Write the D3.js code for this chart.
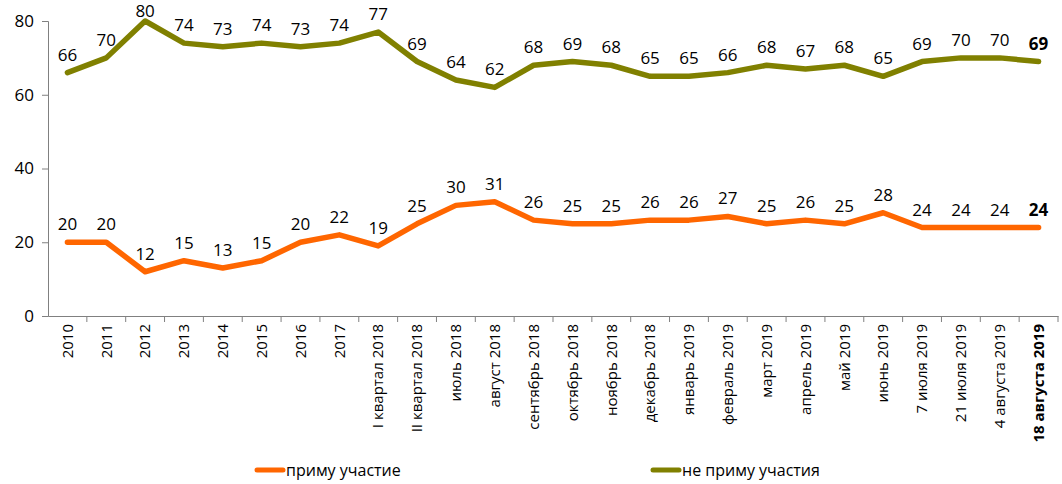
<!DOCTYPE html>
<html>
<head>
<meta charset="utf-8">
<script src="https://cdn.jsdelivr.net/npm/d3@7"></script>
<style>
  body { margin: 0; background: #fff; }
  svg { display: block; }
  .lbl { font-family: "Open Sans", sans-serif; font-size: 17px; fill: #000; }
  .ax text { font-family: "Open Sans", sans-serif; fill: #000; }
</style>
</head>
<body>
<div id="chart"></div>
<script>
var width = 1062,
    height = 484;

// data
var categories = ["2010","2011","2012","2013","2014","2015","2016","2017",
  "I квартал 2018","II квартал 2018","июль 2018","август 2018","сентябрь 2018",
  "октябрь 2018","ноябрь 2018","декабрь 2018","январь 2019","февраль 2019",
  "март 2019","апрель 2019","май 2019","июнь 2019","7 июля 2019","21 июля 2019",
  "4 августа 2019","18 августа 2019"];
var willTake = [20,20,12,15,13,15,20,22,19,25,30,31,26,25,25,26,26,27,25,26,25,28,24,24,24,24];
var wontTake = [66,70,80,74,73,74,73,74,77,69,64,62,68,69,68,65,65,66,68,67,68,65,69,70,70,69];
var yTicks = [0,20,40,60,80];
var seriesNames = ["приму участие", "не приму участия"];
var colors = ["#ff6600", "#808000"];

var margin = {top: 21, left: 48, right: 4, bottom: 168};

var x = d3.scaleBand()
    .domain(categories)
    .range([margin.left, width - margin.right])
    .padding(0);
var y = d3.scaleLinear()
    .domain([0, 80])
    .range([height - margin.bottom, margin.top]);

var svg = d3.select("#chart").append("svg")
    .attr("width", width)
    .attr("height", height);

var last = categories[categories.length - 1];

// y axis
var yAxis = svg.append("g")
    .attr("class", "ax")
    .attr("transform", "translate(" + margin.left + ",0)")
    .call(d3.axisLeft(y).tickValues(yTicks).tickSize(6).tickPadding(8));
yAxis.selectAll("text").style("font-size", "17px");
yAxis.selectAll("line, path").attr("stroke", "#808080");

// x axis
var xAxis = svg.append("g")
    .attr("class", "ax")
    .attr("transform", "translate(0," + y(0) + ")")
    .call(d3.axisBottom(x).tickSize(0).tickSizeOuter(0));
xAxis.select("path").attr("stroke", "#808080");
xAxis.selectAll("text")
    .style("font-size", "15px")
    .style("font-weight", function(d) { return d == last ? "bold" : "normal"; })
    .attr("transform", "rotate(-90)")
    .attr("x", -8)
    .attr("y", 0)
    .attr("dy", "0.35em")
    .attr("text-anchor", "end");

// tick marks between categories
svg.append("g")
    .selectAll("line")
    .data(categories)
    .enter().append("line")
    .attr("x1", function(d) { return x(d) + x.bandwidth(); })
    .attr("x2", function(d) { return x(d) + x.bandwidth(); })
    .attr("y1", y(0))
    .attr("y2", y(0) + 6)
    .attr("stroke", "#808080");

var line = d3.line()
    .x(function(d, i) { return x(categories[i]) + x.bandwidth() / 2; })
    .y(function(d) { return y(d); });

[willTake, wontTake].forEach(function(vals, k) {
  svg.append("path")
      .datum(vals)
      .attr("fill", "none")
      .attr("stroke", colors[k])
      .attr("stroke-width", 5.5)
      .attr("stroke-linejoin", "round")
      .attr("stroke-linecap", "round")
      .attr("d", line);

  svg.append("g")
      .selectAll("text")
      .data(vals)
      .enter().append("text")
      .attr("class", "lbl")
      .attr("x", function(d, i) { return x(categories[i]) + x.bandwidth() / 2; })
      .attr("y", function(d) { return Math.max(y(d) - 12, 17); })
      .attr("text-anchor", "middle")
      .style("font-weight", function(d, i) { return i == vals.length - 1 ? "bold" : "normal"; })
      .text(function(d) { return d; });
});

// legend
var legendX = [257, 653];
var legend = svg.append("g");
seriesNames.forEach(function(name, k) {
  legend.append("line")
      .attr("x1", legendX[k]).attr("x2", legendX[k] + 26)
      .attr("y1", 470).attr("y2", 470)
      .attr("stroke", colors[k])
      .attr("stroke-width", 5)
      .attr("stroke-linecap", "round");
  legend.append("text")
      .attr("x", legendX[k] + 29)
      .attr("y", 476)
      .style("font-family", "'Liberation Sans Narrow', 'Open Sans', sans-serif")
      .style("font-size", "16px")
      .text(name);
});
</script>
</body>
</html>
